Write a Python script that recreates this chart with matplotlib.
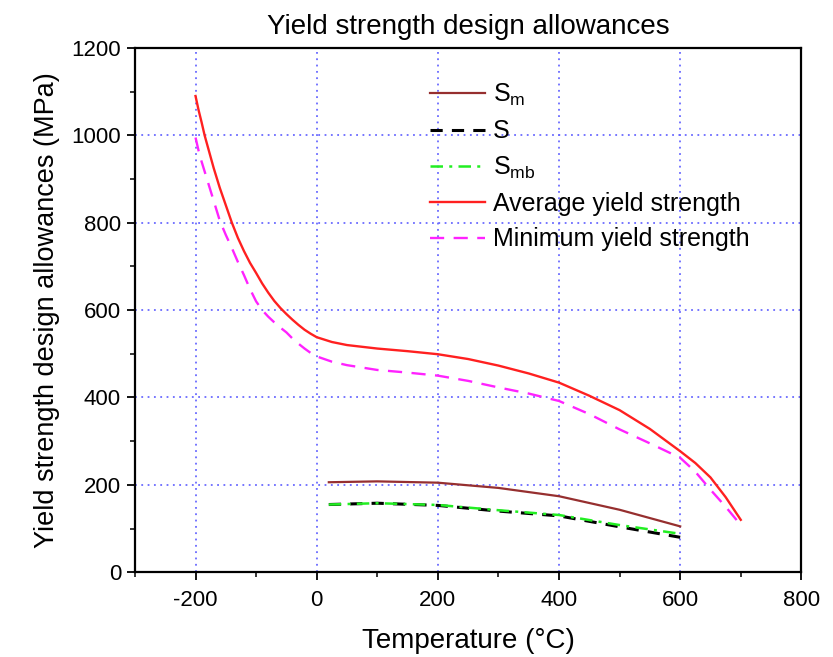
import numpy as np
import matplotlib
matplotlib.use("Agg")
import matplotlib.pyplot as plt
from matplotlib.ticker import MultipleLocator, FixedLocator

plt.rcParams['font.family'] = ['Liberation Sans', 'DejaVu Sans']
plt.rcParams['mathtext.fontset'] = 'custom'
plt.rcParams['mathtext.rm'] = 'Liberation Sans'
plt.rcParams['mathtext.it'] = 'Liberation Sans'
plt.rcParams['axes.unicode_minus'] = False

# ---- data ----
avg_x = [-200, -195, -190, -185, -180, -170, -160, -150, -140, -130, -120, -110, -100, -90, -80, -70,
         -60, -50, -40, -30, -20, -10, 0, 25, 50, 100, 150, 200, 250, 300, 350, 400, 450, 500,
         550, 600, 625, 650, 675, 700]
avg_y = [1090, 1058, 1030, 1000, 975, 925, 880, 840, 800, 765, 735, 708, 685, 661, 640, 621,
         605, 591, 578, 566, 555, 546, 538, 527, 520, 512, 506, 499, 488, 473, 455, 434, 404, 371,
         328, 277, 250, 217, 172, 120]

min_x = [-200, -195, -190, -180, -170, -160, -150, -140, -130, -120, -110, -100, -90, -80, -70,
         -60, -50, -40, -30, -20, -10, 0, 25, 50, 100, 150, 200, 250, 300, 350, 400, 450, 500,
         550, 600, 625, 650, 675, 700]
min_y = [995, 965, 940, 895, 850, 805, 772, 742, 710, 680, 648, 620, 600, 585, 572,
         560, 549, 535, 523, 512, 502, 494, 482, 474, 463, 457, 450, 438, 423, 409, 392, 362, 327,
         295, 262, 230, 189, 150, 108]

sm_x = [20, 100, 200, 300, 400, 500, 600]
sm_y = [206, 208, 205, 193, 174, 143, 105]

s_x = [20, 100, 200, 300, 400, 500, 600]
s_y = [155, 158, 153, 140, 129, 104, 80]

smb_x = [20, 100, 200, 300, 400, 500, 600]
smb_y = [155, 158, 154, 142, 131, 108, 88]

x_ticks = [-200, 0, 200, 400, 600, 800]
y_ticks = [0, 200, 400, 600, 800, 1000, 1200]

fig = plt.figure(figsize=(8.33, 6.57), dpi=100)
ax = fig.add_axes([0.162, 0.129, 0.800, 0.798])

ax.grid(True, which='major', color='#6a6aff', linestyle=(0, (1, 2.5)), linewidth=1.3)
ax.set_axisbelow(True)

ax.plot(sm_x, sm_y, color='#962f2f', lw=1.6, label=r'S$_{\rm m}$')
ax.plot(s_x, s_y, color='black', lw=2.2, linestyle=(0, (4, 3)), label='S')
ax.plot(smb_x, smb_y, color='#22ee22', lw=1.8, linestyle=(0, (5, 2.5, 1.2, 2.5)), label=r'S$_{\rm mb}$')
ax.plot(avg_x, avg_y, color='#ff2020', lw=1.7, label='Average yield strength')
ax.plot(min_x, min_y, color='#ff22ff', lw=1.7, linestyle=(0, (6, 4)), label='Minimum yield strength')

ax.set_xlim(-300, 800)
ax.set_ylim(0, 1200)
ax.xaxis.set_major_locator(FixedLocator(x_ticks))
ax.yaxis.set_major_locator(FixedLocator(y_ticks))
ax.xaxis.set_minor_locator(MultipleLocator(100))
ax.yaxis.set_minor_locator(MultipleLocator(100))
ax.tick_params(which='major', direction='out', length=6, width=1.3, labelsize=16)
ax.tick_params(axis='x', which='major', pad=7)
ax.tick_params(axis='y', which='major', pad=4)
ax.tick_params(which='minor', direction='out', length=3.5, width=1.1)
for s in ax.spines.values():
    s.set_linewidth(1.6)

ax.set_xlabel('Temperature (°C)', fontsize=20, labelpad=12)
ax.set_ylabel('Yield strength design allowances (MPa)', fontsize=19.5, labelpad=8)
ax.set_title('Yield strength design allowances', fontsize=20, pad=10)

leg = ax.legend(loc='upper left', bbox_to_anchor=(0.443, 0.935), frameon=False,
                fontsize=18, handlelength=2.2, handletextpad=0.3, labelspacing=0.45,
                borderpad=0, borderaxespad=0)

fig.savefig('out.png', dpi=100)
